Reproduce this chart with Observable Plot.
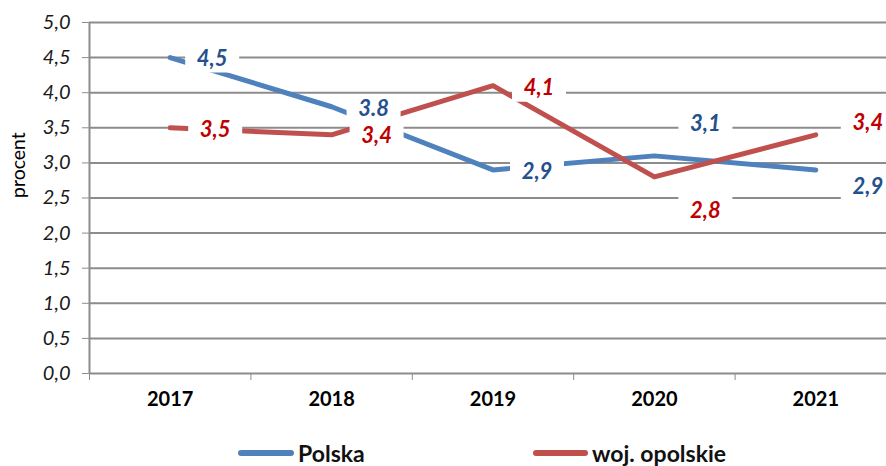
<!DOCTYPE html>
<html>
<head>
<meta charset="utf-8">
<script src="https://cdn.jsdelivr.net/npm/d3@7"></script>
<script src="https://cdn.jsdelivr.net/npm/@observablehq/plot@0.6"></script>
<style>
  html, body { margin: 0; padding: 0; background: #fff; overflow: hidden; }
  #wrap { position: relative; width: 886px; height: 466px; overflow: hidden; font-family: Lato, sans-serif; }
  #chart svg { display: block; }
  .legend { position: relative; width: 886px; height: 36px; }
  .sw { position: absolute; top: 20px; height: 6px; border-radius: 3px; }
  .lt { position: absolute; top: 5px; line-height: 36px; font-size: 23px; font-weight: bold; color: #111; white-space: nowrap; }
</style>
</head>
<body>
<div id="wrap">
  <div id="chart"></div>
  <div class="legend" id="legend"></div>
</div>
<script>
// ---- data ----
const years = ["2017", "2018", "2019", "2020", "2021"];
const polska = [4.5, 3.8, 2.9, 3.1, 2.9];
const opolskie = [3.5, 3.4, 4.1, 2.8, 3.4];
const polskaLabels = ["4,5", "3.8", "2,9", "3,1", "2,9"];
const opolskieLabels = ["3,5", "3,4", "4,1", "2,8", "3,4"];
const seriesNames = ["Polska", "woj. opolskie"];
const yTicks = [0, 0.5, 1, 1.5, 2, 2.5, 3, 3.5, 4, 4.5, 5];
const yTickLabels = ["0,0", "0,5", "1,0", "1,5", "2,0", "2,5", "3,0", "3,5", "4,0", "4,5", "5,0"];
const yTitle = "procent";

// ---- style (label offsets in px, colours) ----
const polskaOffsets = [[42, 1], [42, 2], [44, 2], [51, -32], [52, 17]];
const opolskieOffsets = [[45, 2], [45, 1], [46, 2], [51, 34], [52, -12]];
const blue = "#4f81bd", red = "#c0504d";
const blueText = "#24508e", redText = "#c00000";
const gridColor = "#8c8c8c";

const idx = years.map((d, i) => i);
const bounds = [-0.5, 0.5, 1.5, 2.5, 3.5, 4.5];

// white label box as a fixed-size rectangle symbol
const boxSymbol = { draw(ctx) { ctx.rect(-27, -14, 54, 28); } };

function labelMarks(values, labels, offsets, color) {
  return values.flatMap((v, i) => {
    const datum = [{x: i, y: v, t: labels[i]}];
    const o = { x: "x", y: "y", dx: offsets[i][0], dy: offsets[i][1] };
    return [
      Plot.dot(datum, { ...o, symbol: boxSymbol, fill: "white", stroke: "none" }),
      Plot.text(datum, { ...o, text: "t", fill: color, fontSize: 22, fontWeight: "bold", fontStyle: "italic", fontFamily: "Lato, sans-serif" })
    ];
  });
}

const chart = Plot.plot({
  width: 886,
  height: 430,
  marginLeft: 89,
  marginRight: -10,
  marginTop: 22,
  marginBottom: 57,
  style: { fontFamily: "Lato, sans-serif", background: "white", color: gridColor },
  x: { type: "linear", domain: [-0.5, 4.5], ticks: bounds, tickFormat: () => "", tickSize: 7, label: null },
  y: { domain: [0, 5], ticks: yTicks, tickFormat: () => "", tickSize: 7, label: null },
  marks: [
    Plot.ruleY(yTicks, { stroke: gridColor, strokeWidth: 2 }),
    Plot.ruleX([-0.5], { stroke: gridColor, strokeWidth: 2 }),
    Plot.line(polska, { x: (d, i) => idx[i], y: (d) => d, stroke: blue, strokeWidth: 5, strokeLinecap: "round", strokeLinejoin: "round" }),
    Plot.line(opolskie, { x: (d, i) => idx[i], y: (d) => d, stroke: red, strokeWidth: 5, strokeLinecap: "round", strokeLinejoin: "round" }),
    ...labelMarks(polska, polskaLabels, polskaOffsets, blueText),
    ...labelMarks(opolskie, opolskieLabels, opolskieOffsets, redText),
    // y tick labels
    Plot.text(yTicks, { y: (d) => d, frameAnchor: "left", dx: -19, textAnchor: "end", text: (d, i) => yTickLabels[i], fill: "#1a1a1a", fontSize: 20, fontStyle: "italic", fontFamily: "Lato, sans-serif" }),
    // x category labels
    Plot.text(years, { x: (d, i) => idx[i], frameAnchor: "bottom", dy: 32, text: (d) => d, fill: "#000", fontSize: 20, fontWeight: "bold", fontFamily: "Lato, sans-serif" }),
    // y title
    Plot.text([yTitle], { frameAnchor: "left", dx: -71, rotate: -90, text: (d) => d, fill: "#000", fontSize: 19.5, fontFamily: "Lato, sans-serif" })
  ]
});

document.getElementById("chart").appendChild(chart);

// legend
const legend = document.getElementById("legend");
const legendItems = [
  { name: seriesNames[0], color: blue, sx: 238, sw: 56, tx: 298 },
  { name: seriesNames[1], color: red, sx: 533, sw: 55, tx: 592 }
];
legendItems.forEach((it) => {
  const s = document.createElement("div");
  s.className = "sw";
  s.style.left = it.sx + "px";
  s.style.width = it.sw + "px";
  s.style.background = it.color;
  legend.appendChild(s);
  const l = document.createElement("div");
  l.className = "lt";
  l.style.left = it.tx + "px";
  l.textContent = it.name;
  legend.appendChild(l);
});
</script>
</body>
</html>
